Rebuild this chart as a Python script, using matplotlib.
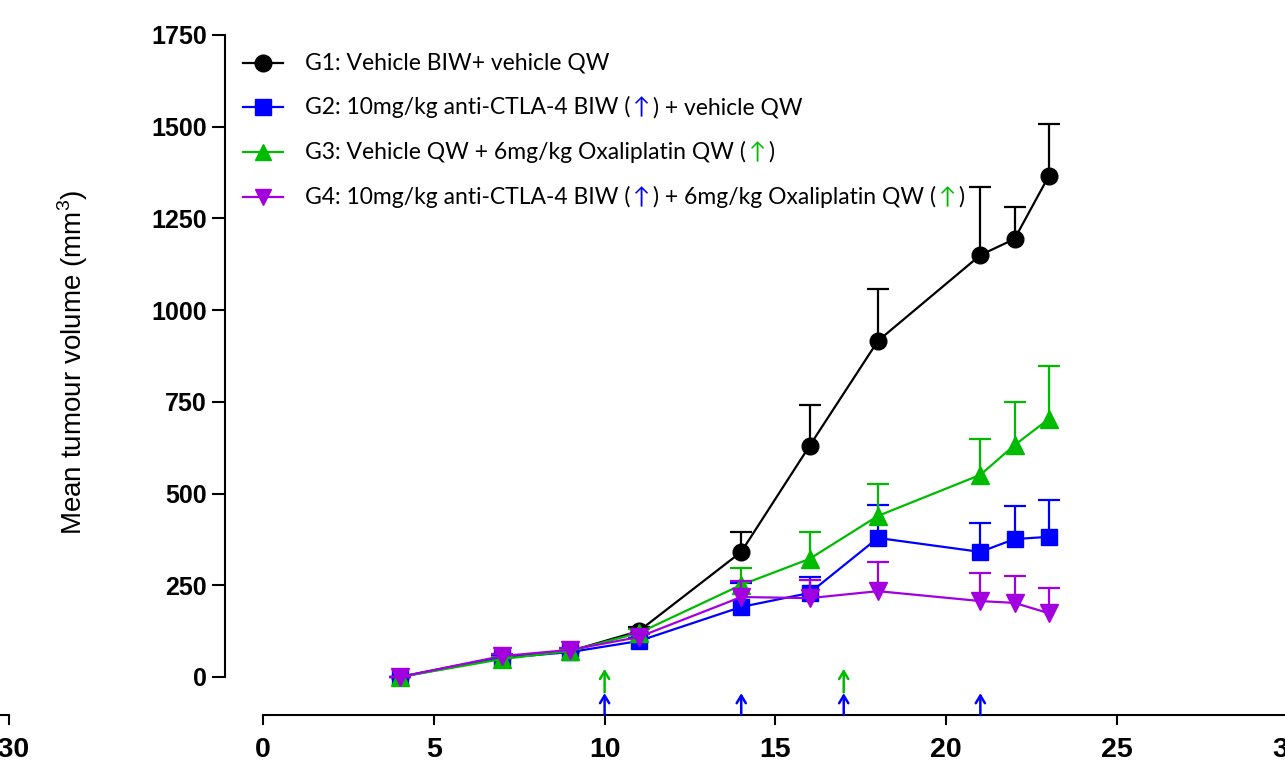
import matplotlib
import numpy as np

matplotlib.use("Agg")
import matplotlib.pyplot as plt
from matplotlib.offsetbox import AnnotationBbox, HPacker, TextArea

# study days (x) and mean tumour volume +/- SEM (upper bar only)
days = [4, 7, 9, 11, 14, 16, 18, 21, 22, 23]

g1_mean = [0, 55, 71, 125, 341, 630, 916, 1150, 1194, 1365]
g1_sem = [0, 5, 6, 10, 54, 111, 141, 185, 87, 142]

g2_mean = [0, 52, 68, 98, 191, 229, 379, 341, 376, 382]
g2_sem = [0, 5, 6, 8, 65, 44, 90, 79, 90, 100]

g3_mean = [0, 49, 71, 120, 251, 322, 439, 551, 632, 703]
g3_sem = [0, 5, 6, 10, 46, 73, 87, 98, 118, 145]

g4_mean = [0, 57, 74, 109, 218, 215, 234, 207, 202, 174]
g4_sem = [0, 5, 6, 9, 44, 49, 79, 76, 73, 69]

# dosing days
biw_days = [10, 14, 17, 21]  # anti-CTLA-4, blue arrows
qw_days = [10, 17]  # oxaliplatin, green arrows

x_ticks = [0, 5, 10, 15, 20, 25, 30]
y_ticks = [0, 250, 500, 750, 1000, 1250, 1500, 1750]

BLACK = "#000000"
BLUE = "#0000FF"
GREEN = "#00BB00"
PURPLE = "#A300E0"

legend_rows = [
    ([("G1: Vehicle BIW+ vehicle QW", BLACK)], BLACK, "o"),
    ([("G2: 10mg/kg anti-CTLA-4 BIW (", BLACK), ("\u2191", BLUE),
      (") + vehicle QW", BLACK)], BLUE, "s"),
    ([("G3: Vehicle QW + 6mg/kg Oxaliplatin QW (", BLACK), ("\u2191", GREEN),
      (")", BLACK)], GREEN, "^"),
    ([("G4: 10mg/kg anti-CTLA-4 BIW (", BLACK), ("\u2191", BLUE),
      (") + 6mg/kg Oxaliplatin QW (", BLACK), ("\u2191", GREEN), (")", BLACK)],
     PURPLE, "v"),
]

plt.rcParams["font.family"] = ["Liberation Sans", "DejaVu Sans"]
plt.rcParams["mathtext.fontset"] = "custom"
plt.rcParams["mathtext.rm"] = "Liberation Sans"

FIG_W, FIG_H = 1285, 768
AX_L, AX_R, AX_T, AX_B = 225, 1288, 35, 715
PX_PER_DAY = 34.16
X0_PX = 263  # pixel of day 0


def ax_frac(px, py):
    return (px - AX_L) / (AX_R - AX_L), (AX_B - py) / (AX_B - AX_T)


fig = plt.figure(figsize=(FIG_W / 100, FIG_H / 100), dpi=100)
ax = fig.add_axes([AX_L / FIG_W, 1 - AX_B / FIG_H,
                   (AX_R - AX_L) / FIG_W, (AX_B - AX_T) / FIG_H])
ax.patch.set_alpha(0)

series = [
    (g1_mean, g1_sem, BLACK, "o", 12),
    (g2_mean, g2_sem, BLUE, "s", 12),
    (g3_mean, g3_sem, GREEN, "^", 13),
    (g4_mean, g4_sem, PURPLE, "v", 13),
]
for i, (mean, sem, color, marker, ms) in enumerate(series):
    cont = ax.errorbar(days, mean, yerr=[np.zeros(len(sem)), sem], color=color,
                       marker=marker, ms=ms, mec=color, lw=1.6, elinewidth=1.6,
                       capsize=8, capthick=1.6, zorder=3 + i, clip_on=False)
    # only the upper cap is shown
    cont[1][0].set_visible(False)

arrow_kw = dict(arrowstyle="->,head_length=0.55,head_width=0.33", lw=1.8,
                shrinkA=0, shrinkB=0, mutation_scale=10)
for d in biw_days:
    ax.annotate("", xy=(d, -44), xytext=(d, -103.6),
                arrowprops=dict(color=BLUE, **arrow_kw), annotation_clip=False)
for d in qw_days:
    ax.annotate("", xy=(d, 22), xytext=(d, -42),
                arrowprops=dict(color=GREEN, **arrow_kw), annotation_clip=False)

x_left = (AX_L - X0_PX) / PX_PER_DAY
x_right = (AX_R - X0_PX) / PX_PER_DAY
y_bottom = -(AX_B - 677) / ((677 - AX_T) / 1750)
ax.set_xlim(x_left, x_right)
ax.set_ylim(y_bottom, 1750)

for side in ["top", "right"]:
    ax.spines[side].set_visible(False)
ax.spines["left"].set_bounds(0, 1750)
ax.spines["bottom"].set_bounds(0, 30)
for side in ["left", "bottom"]:
    ax.spines[side].set_linewidth(1.5)

ax.set_xticks(x_ticks)
ax.set_yticks(y_ticks)
ax.tick_params(axis="y", length=9.5, width=1.5, pad=3.5, labelsize=18)
ax.tick_params(axis="x", length=7, width=1.5, pad=8.5, labelsize=20.5)
for lbl in ax.get_xticklabels() + ax.get_yticklabels():
    lbl.set_fontweight("bold")

ax.set_ylabel(r"Mean tumour volume (mm$^{\mathrm{3}}$)", fontsize=20)
ax.yaxis.set_label_coords(ax_frac(90, 0)[0], ax_frac(0, 362)[1])

# broken-off left piece of the x axis
x2_l = -30 - 9 / PX_PER_DAY
x2_r = -30 + 3 / PX_PER_DAY
ax2 = fig.add_axes([0, 1 - AX_B / FIG_H, 12 / FIG_W, 0.001])
ax2.patch.set_alpha(0)
ax2.set_xlim(x2_l, x2_r)
for side in ["top", "right", "left"]:
    ax2.spines[side].set_visible(False)
ax2.spines["bottom"].set_bounds(x2_l, -30)
ax2.spines["bottom"].set_linewidth(1.5)
ax2.set_yticks([])
ax2.set_xticks([-30])
ax2.set_xticklabels(["-30"], fontweight="bold")
ax2.tick_params(axis="x", length=7, width=1.5, pad=8.5, labelsize=20.5)

# legend drawn by hand so the arrows can be coloured
row_py = [63, 107, 152, 197]
line_x0, _ = ax_frac(243, 0)
line_xm, _ = ax_frac(263, 0)
line_x1, _ = ax_frac(283, 0)
text_x, _ = ax_frac(305, 0)
for (parts, color, marker), py in zip(legend_rows, row_py):
    _, y = ax_frac(0, py)
    ax.plot([line_x0, line_xm, line_x1], [y, y, y], color=color, lw=1.6,
            marker=marker, markevery=[1], ms=12, mec=color,
            transform=ax.transAxes, clip_on=False)
    boxes = [TextArea(txt, textprops=dict(color=c, fontsize=16.5,
                                          family=["Lato", "DejaVu Sans"]))
             for txt, c in parts]
    pack = HPacker(children=boxes, align="baseline", pad=0, sep=2)
    ab = AnnotationBbox(pack, (text_x, y), xycoords=ax.transAxes,
                        box_alignment=(0, 0.5), frameon=False, pad=0)
    ax.add_artist(ab)

fig.savefig("out.png", dpi=100)
